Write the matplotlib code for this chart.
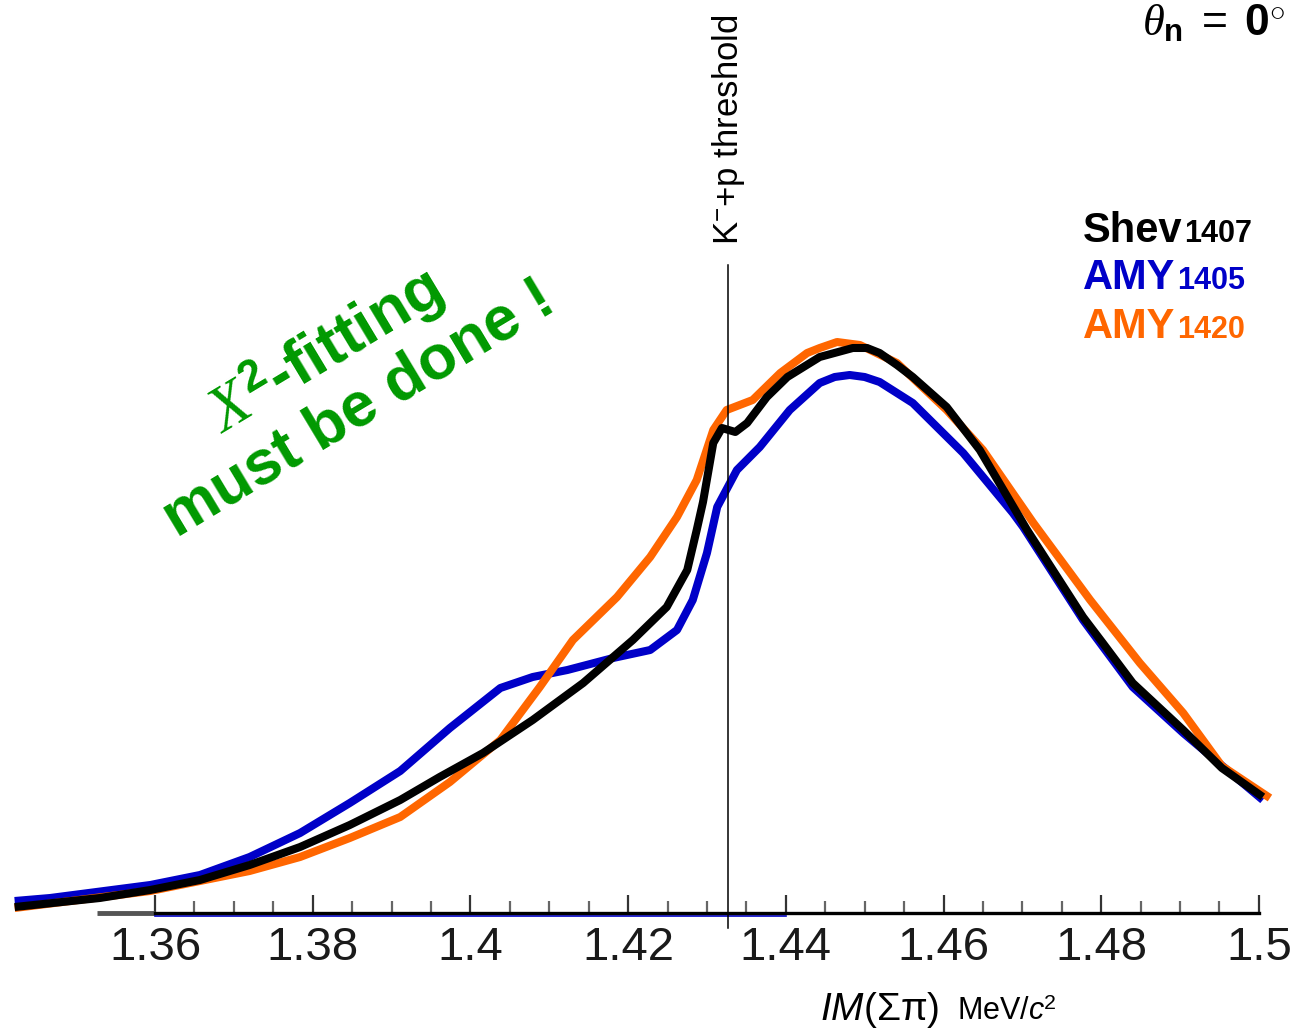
import numpy as np
import matplotlib
matplotlib.use('Agg')
import matplotlib.pyplot as plt

plt.rcParams['font.family'] = ['Liberation Sans', 'DejaVu Sans']
plt.rcParams['mathtext.fontset'] = 'custom'
plt.rcParams['mathtext.rm'] = 'Liberation Sans'
plt.rcParams['mathtext.it'] = 'Liberation Serif:italic'
plt.rcParams['mathtext.bf'] = 'Liberation Sans:bold'
plt.rcParams['mathtext.sf'] = 'Liberation Sans:italic'

# ---------------- data (arbitrary yield units) ----------------
shev_x = [1.3422, 1.3530, 1.3594, 1.3657, 1.3720, 1.3784, 1.3847, 1.3911, 1.3961, 1.4016,
          1.4079, 1.4143, 1.4206, 1.4249, 1.4275, 1.4287, 1.4295, 1.4308, 1.4319, 1.4336,
          1.4351, 1.4376, 1.4402, 1.4443, 1.4485, 1.4503, 1.4519, 1.4541, 1.4561, 1.4604,
          1.4646, 1.4706, 1.4777, 1.4802, 1.4840, 1.4904, 1.4953, 1.5005]
shev_y = [0.06, 0.15, 0.23, 0.33, 0.48, 0.66, 0.88, 1.13, 1.36, 1.60,
          1.93, 2.30, 2.73, 3.06, 3.43, 3.83, 4.11, 4.70, 4.85, 4.81,
          4.90, 5.16, 5.36, 5.56, 5.65, 5.65, 5.60, 5.48, 5.36, 5.06,
          4.63, 3.83, 2.96, 2.70, 2.30, 1.83, 1.45, 1.16]

amy1405_x = [1.3422, 1.3467, 1.3594, 1.3657, 1.3720, 1.3784, 1.3847, 1.3911, 1.3974, 1.4038,
             1.4079, 1.4123, 1.4181, 1.4228, 1.4262, 1.4282, 1.4300, 1.4313, 1.4338, 1.4367,
             1.4405, 1.4443, 1.4462, 1.4481, 1.4500, 1.4519, 1.4561, 1.4625, 1.4688, 1.4701,
             1.4777, 1.4840, 1.4904, 1.5005]
amy1405_y = [0.12, 0.15, 0.28, 0.38, 0.56, 0.80, 1.10, 1.42, 1.85, 2.25,
             2.36, 2.43, 2.55, 2.63, 2.83, 3.13, 3.60, 4.06, 4.43, 4.66,
             5.03, 5.30, 5.36, 5.38, 5.36, 5.31, 5.10, 4.60, 4.00, 3.86,
             2.93, 2.26, 1.80, 1.13]

amy1420_x = [1.3422, 1.3594, 1.3657, 1.3720, 1.3784, 1.3847, 1.3911, 1.3974, 1.4038, 1.4088,
             1.4130, 1.4186, 1.4228, 1.4262, 1.4287, 1.4308, 1.4325, 1.4358, 1.4393, 1.4427,
             1.4443, 1.4465, 1.4494, 1.4541, 1.4604, 1.4650, 1.4714, 1.4786, 1.4849, 1.4904,
             1.4953, 1.5014]
amy1420_y = [0.05, 0.22, 0.32, 0.42, 0.56, 0.75, 0.96, 1.31, 1.73, 2.26,
             2.73, 3.16, 3.56, 3.96, 4.33, 4.83, 5.03, 5.13, 5.40, 5.60,
             5.65, 5.71, 5.68, 5.50, 5.03, 4.63, 3.90, 3.13, 2.50, 2.00,
             1.47, 1.15]

threshold = 1.4327
major_ticks = [1.36, 1.38, 1.40, 1.42, 1.44, 1.46, 1.48, 1.50]
tick_labels = ['1.36', '1.38', '1.4', '1.42', '1.44', '1.46', '1.48', '1.5']

c_black = '#000000'
c_blue = '#0000C8'
c_orange = '#FF6600'
c_green = '#009900'

# ---------------- figure ----------------
fig = plt.figure(figsize=(13.01, 10.33), dpi=100)
ax = fig.add_axes([0, 0, 1, 1])
ax.set_xlim(1.340342, 1.505338)
ax.set_ylim(-1.20, 9.13)

lw = 5.8
ax.plot(amy1405_x, amy1405_y, color=c_blue, lw=lw, solid_joinstyle='round', solid_capstyle='butt', zorder=3)
ax.plot(amy1420_x, amy1420_y, color=c_orange, lw=lw, solid_joinstyle='round', solid_capstyle='butt', zorder=4)
ax.plot(shev_x, shev_y, color=c_black, lw=lw, solid_joinstyle='round', solid_capstyle='butt', zorder=5)

# threshold line + label
ax.plot([threshold, threshold], [-0.15, 6.48], color='black', lw=1.1, zorder=6)
ax.text(threshold, 6.68, r'K$^{-}$+p threshold', rotation=90, ha='center', va='bottom',
        fontsize=25, color='black')

# axis
for s in ['top', 'right', 'left']:
    ax.spines[s].set_visible(False)
ax.spines['bottom'].set_position(('data', 0))
ax.spines['bottom'].set_bounds(1.36, 1.50)
ax.spines['bottom'].set_linewidth(2.4)
ax.plot([1.3526, 1.36], [0, 0], color='#555555', lw=3.5, solid_capstyle='butt', zorder=2)
ax.plot([1.36, 1.44], [-0.03, -0.03], color=c_blue, lw=1.2, zorder=2)
ax.set_yticks([])
ax.set_xticks(major_ticks)
ax.set_xticklabels(tick_labels)
ax.set_xticks(np.arange(1.36, 1.5001, 0.005), minor=True)
ax.tick_params(axis='x', which='major', direction='in', length=13, width=1.6,
               color='#333333', labelsize=34, labelcolor='#1a1a1a', pad=9)
ax.tick_params(axis='x', which='minor', direction='in', length=9, width=1.6, color='#666666')

# x label
ax.text(820 / 1301, 1 - 1020 / 1033, r'$\mathsf{IM}(\Sigma\mathrm{\pi})$', fontsize=28,
        transform=ax.transAxes, ha='left', va='baseline')
ax.text(957 / 1301, 1 - 1020 / 1033, r'MeV/$\mathsf{c}^{2}$', fontsize=22,
        transform=ax.transAxes, ha='left', va='baseline')

# angle label
ax.text(1285 / 1301, 1 - 35 / 1033, r'$\theta_{\mathbf{n}}\ =\ \mathbf{0}^{\circ}$',
        fontsize=32, transform=ax.transAxes, ha='right', va='baseline')

# legend as coloured text
legend_names = ['Shev', 'AMY', 'AMY']
legend_nums = ['1407', '1405', '1420']
legend_cols = [c_black, c_blue, c_orange]
legend_base = [242, 289, 338]
for name, num, col, yb in zip(legend_names, legend_nums, legend_cols, legend_base):
    yf = 1 - yb / 1033
    t = ax.text(1083 / 1301, yf, name, fontsize=30, fontweight='bold',
                color=col, transform=ax.transAxes, ha='left', va='baseline')
    ax.annotate(num, xy=(1, yf), xycoords=(t, ax.transAxes), xytext=(1, 0),
                textcoords='offset points', fontsize=22, fontweight='bold',
                color=col, ha='left', va='baseline')

# green note
ax.text(340 / 1301, 1 - 378 / 1033, '$\\mathit{X}^{\\mathbf{2}}$-fitting\nmust be done !',
        rotation=31, rotation_mode='anchor', ha='center', va='center', multialignment='center',
        fontsize=45, fontweight='bold', color=c_green, transform=ax.transAxes, linespacing=1.1)

fig.savefig('out.png', dpi=100)
